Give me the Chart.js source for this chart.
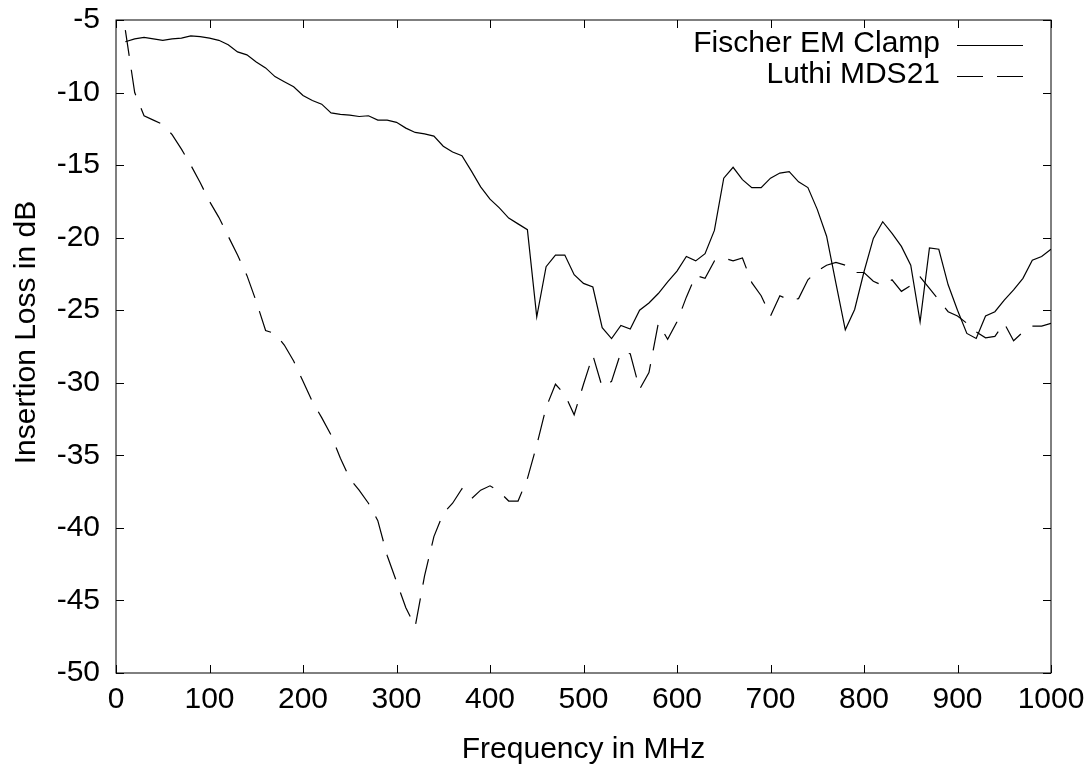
<!DOCTYPE html>
<html>
<head>
<meta charset="utf-8">
<script src="https://cdn.jsdelivr.net/npm/chart.js@4.4.1/dist/chart.umd.min.js"></script>
<style>
    html, body { margin: 0; padding: 0; background: #fff; }
</style>
</head>
<body>
<canvas id="chart-line" width="1090" height="768"></canvas>
<script>
const freqMHz = [
    10, 20, 30, 40, 50, 60, 70, 80, 90, 100,
    110, 120, 130, 140, 150, 160, 170, 180, 190, 200,
    210, 220, 230, 240, 250, 260, 270, 280, 290, 300,
    310, 320, 330, 340, 350, 360, 370, 380, 390, 400,
    410, 420, 430, 440, 450, 460, 470, 480, 490, 500,
    510, 520, 530, 540, 550, 560, 570, 580, 590, 600,
    610, 620, 630, 640, 650, 660, 670, 680, 690, 700,
    710, 720, 730, 740, 750, 760, 770, 780, 790, 800,
    810, 820, 830, 840, 850, 860, 870, 880, 890, 900,
    910, 920, 930, 940, 950, 960, 970, 980, 990, 1000
];

const fischerEM = [
    -6.5, -6.3, -6.2, -6.3, -6.4, -6.3, -6.25, -6.1, -6.15, -6.25,
    -6.4, -6.7, -7.2, -7.4, -7.9, -8.3, -8.9, -9.25, -9.6, -10.2,
    -10.55, -10.8, -11.4, -11.5, -11.55, -11.65, -11.6, -11.9, -11.9, -12.05,
    -12.45, -12.75, -12.85, -13.0, -13.7, -14.1, -14.35, -15.4, -16.5, -17.35,
    -17.95, -18.65, -19.05, -19.45, -25.45, -22.0, -21.2, -21.2, -22.55, -23.15,
    -23.4, -26.2, -26.95, -26.05, -26.3, -25.0, -24.5, -23.85, -23.05, -22.3,
    -21.3, -21.6, -21.1, -19.5, -15.9, -15.15, -16.0, -16.55, -16.55, -15.9,
    -15.55, -15.45, -16.15, -16.55, -18.05, -19.9, -23.15, -26.35, -24.95, -22.35,
    -20.05, -18.9, -19.7, -20.6, -21.9, -25.8, -20.7, -20.8, -23.25, -25.0,
    -26.6, -26.95, -25.4, -25.1, -24.3, -23.6, -22.8, -21.55, -21.3, -20.8
];

const luthiMDS21 = [
    -5.7, -10.0, -11.6, -11.9, -12.2, -12.9, -13.9, -15.0, -16.2, -17.5,
    -18.6, -19.9, -21.2, -22.6, -24.4, -26.4, -26.6, -27.4, -28.5, -29.9,
    -31.3, -32.4, -33.6, -35.2, -36.6, -37.4, -38.3, -39.5, -41.9, -43.7,
    -45.5, -46.8, -43.3, -40.6, -39.0, -38.3, -37.3, -38.0, -37.4, -37.1,
    -37.5, -38.15, -38.15, -36.6, -34.3, -31.7, -30.1, -30.8, -32.2, -30.1,
    -28.1, -30.3, -29.9, -27.9, -28.0, -30.45, -29.3, -25.9, -27.0, -25.8,
    -24.1, -22.6, -22.8, -21.6, -21.4, -21.6, -21.4, -23.1, -24.0, -25.4,
    -24.0, -24.3, -24.2, -22.9, -22.3, -21.9, -21.7, -21.9, -22.4, -22.4,
    -23.0, -23.3, -22.9, -23.7, -23.3, -22.7, -23.5, -24.3, -25.1, -25.4,
    -25.9, -26.5, -26.9, -26.8, -25.9, -27.1, -26.5, -26.1, -26.1, -25.9
];

const xTicks = [0, 100, 200, 300, 400, 500, 600, 700, 800, 900, 1000];
const yTicks = [-50, -45, -40, -35, -30, -25, -20, -15, -10, -5];

const FONT = '"Liberation Sans", Arial, Helvetica, sans-serif';
const FONT_SIZE = 30;

// gnuplot style frame: box, inward ticks on all four sides, legend top right
const gnuplotFrame = {
    id: 'gnuplotFrame',
    afterDatasetsDraw(chart) {
        const ctx = chart.ctx;
        const a = chart.chartArea;
        const x = chart.scales.x;
        const y = chart.scales.y;
        const tick = 8;

        ctx.save();
        ctx.strokeStyle = '#000';
        ctx.lineWidth = 1;
        ctx.strokeRect(a.left, a.top, a.right - a.left, a.bottom - a.top);

        ctx.beginPath();
        xTicks.forEach(v => {
            const px = Math.round(x.getPixelForValue(v)) + 0.5;
            ctx.moveTo(px, a.bottom); ctx.lineTo(px, a.bottom - tick);
            ctx.moveTo(px, a.top); ctx.lineTo(px, a.top + tick);
        });
        yTicks.forEach(v => {
            const py = Math.round(y.getPixelForValue(v)) + 0.5;
            ctx.moveTo(a.left, py); ctx.lineTo(a.left + tick, py);
            ctx.moveTo(a.right, py); ctx.lineTo(a.right - tick, py);
        });
        ctx.stroke();

        // legend
        ctx.font = FONT_SIZE + 'px ' + FONT;
        ctx.fillStyle = '#000';
        ctx.textAlign = 'right';
        ctx.textBaseline = 'middle';
        chart.data.datasets.forEach((ds, i) => {
            const ly = 44 + i * 31;
            ctx.fillText(ds.label, 940, ly);
            ctx.beginPath();
            ctx.lineWidth = ds.borderWidth;
            ctx.setLineDash(ds.borderDash || []);
            ctx.moveTo(957, ly + 1.5);
            ctx.lineTo(1023, ly + 1.5);
            ctx.stroke();
        });
        ctx.setLineDash([]);

        // y axis title
        ctx.translate(27, (a.top + a.bottom) / 2 - 14);
        ctx.rotate(-Math.PI / 2);
        ctx.textAlign = 'center';
        ctx.fillText('Insertion Loss in dB', 0, 0);
        ctx.restore();
    }
};

const ctx = document.getElementById('chart-line').getContext('2d');

new Chart(ctx, {
    type: 'line',
    data: {
        datasets: [{
            label: 'Fischer EM Clamp',
            data: freqMHz.map((f, i) => ({ x: f, y: fischerEM[i] })),
            borderColor: '#000',
            borderWidth: 1.2,
            pointRadius: 0,
            tension: 0,
            fill: false
        },
        {
            label: 'Luthi MDS21',
            data: freqMHz.map((f, i) => ({ x: f, y: luthiMDS21[i] })),
            borderColor: '#000',
            borderWidth: 1.2,
            borderDash: [26, 14],
            pointRadius: 0,
            tension: 0,
            fill: false
        }]
    },
    options: {
        responsive: false,
        animation: false,
        layout: {
            padding: { top: 20, right: 39, left: 0, bottom: 0 }
        },
        plugins: {
            legend: { display: false },
            tooltip: { enabled: false }
        },
        scales: {
            x: {
                type: 'linear',
                min: 0,
                max: 1000,
                afterBuildTicks: scale => { scale.ticks = xTicks.map(v => ({ value: v })); },
                afterFit: scale => {
                    scale.height = 95;
                    scale.paddingLeft = 0;
                    scale.paddingRight = 0;
                },
                grid: { display: false, drawTicks: false },
                border: { display: false },
                ticks: {
                    padding: 9,
                    color: '#000',
                    maxRotation: 0,
                    callback: v => String(v),
                    font: { size: FONT_SIZE, family: FONT }
                },
                title: {
                    display: true,
                    text: 'Frequency in MHz',
                    color: '#000',
                    padding: { top: 4, bottom: 0 },
                    font: { size: FONT_SIZE, family: FONT }
                }
            },
            y: {
                min: -50,
                max: -5,
                afterBuildTicks: scale => { scale.ticks = yTicks.map(v => ({ value: v })); },
                afterFit: scale => {
                    scale.width = 116;
                    scale.paddingTop = 0;
                    scale.paddingBottom = 0;
                },
                grid: { display: false, drawTicks: false },
                border: { display: false },
                ticks: {
                    padding: 16,
                    color: '#000',
                    callback: v => String(v),
                    font: { size: FONT_SIZE, family: FONT }
                }
            }
        }
    },
    plugins: [gnuplotFrame]
});
</script>
</body>
</html>
